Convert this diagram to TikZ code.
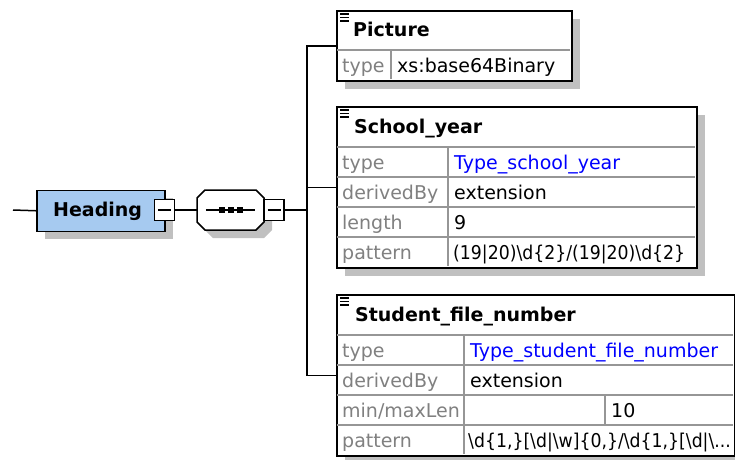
\documentclass[tikz,border=0pt]{standalone}
\usepackage{fontspec}
\setmainfont{DejaVu Sans}
\newfontfamily\patternfont{DejaVu Sans}[FakeStretch=0.91]
\usetikzlibrary{shadows}
\definecolor{headingblue}{RGB}{166,202,240}
\definecolor{shadowgray}{RGB}{192,192,192}
\definecolor{gridgray}{RGB}{150,150,150}
\definecolor{labelgray}{RGB}{128,128,128}
\definecolor{linkblue}{RGB}{0,0,255}

\begin{document}
\begin{tikzpicture}[x=1pt,y=-1pt,font=\fontsize{19}{22}\selectfont,
	wire/.style={line width=1.5pt},
	boxshadow/.style={drop shadow={shadow xshift=8pt,shadow yshift=-8pt,fill=shadowgray,opacity=1}},
	elembox/.style={draw,line width=1.5pt,fill=white,boxshadow,anchor=north west,inner sep=0pt},
	gridline/.style={draw=gridgray,line width=1.3pt},
	iconline/.style={line width=1.2pt},
	nametext/.style={font=\fontsize{19}{22}\selectfont\bfseries,anchor=west,inner sep=0pt,text height=15pt,text depth=2pt},
	celltext/.style={anchor=west,inner sep=0pt,text height=17pt,text depth=2pt},
	labeltext/.style={celltext,text=labelgray},
	minusbox/.style={draw,line width=1.3pt,fill=white,minimum width=20pt,minimum height=21pt,inner sep=0pt,
		path picture={\draw[line width=1.3pt] ([xshift=3.5pt]path picture bounding box.west) -- ([xshift=-3.5pt]path picture bounding box.east);}}]
	\useasboundingbox (0,0) rectangle (735,459);

	% heading and its sequence
	\coordinate (entry) at (13,210);
	\node[draw,line width=1.5pt,fill=headingblue,boxshadow,anchor=north west,minimum width=128pt,minimum height=41pt,inner sep=0pt] (heading) at (36,189.5) {};
	\node[nametext] (headingname) at (53,210) {Heading};
	\node[minusbox] (headingminus) at (164.5,210) {};
	\node[minimum width=67pt,minimum height=40pt,inner sep=0pt] (sequence) at (230.5,210) {};
	\fill[shadowgray] ([shift={(8,8)}]sequence.center) ++(-25.5,-20) -- ++(51,0) -- ++(8,8) -- ++(0,24) -- ++(-8,8) -- ++(-51,0) -- ++(-8,-8) -- ++(0,-24) -- cycle;
	\draw[line width=1.5pt,fill=white] (sequence.center) ++(-25.5,-20) -- ++(51,0) -- ++(8,8) -- ++(0,24) -- ++(-8,8) -- ++(-51,0) -- ++(-8,-8) -- ++(0,-24) -- cycle;
	\draw[wire] ([xshift=9pt]sequence.west) -- ([xshift=-9pt]sequence.east);
	\foreach \dx in {-9,0,9}
		\fill ([xshift=\dx pt]sequence.center) ++(-3,-3) rectangle ++(6,6);
	\node[minusbox] (sequenceminus) at (274,210) {};
	\coordinate (branch) at (307,210);

	% child elements
	\node[elembox,minimum width=235pt,minimum height=70pt] (picture) at (336,10) {};
	\node[elembox,minimum width=360pt,minimum height=161pt] (schoolyear) at (336,106) {};
	\node[elembox,minimum width=398pt,minimum height=161pt] (studentnumber) at (336,294) {};

	\draw[wire] (entry) -- (heading.west);
	\draw[wire] (headingminus.east) -- (sequence.west);
	\draw[wire] (sequenceminus.east) -- (branch);
	\draw[wire] (picture.west) -- (picture.west -| branch) -- (studentnumber.west -| branch) -- (studentnumber.west);
	\draw[wire] (schoolyear.west -| branch) -- (schoolyear.west);

	% Picture
	\draw[gridline] (337,50) -- (570,50) (391,50) -- (391,79);
	\foreach \y in {0,3.5,7}
		\draw[iconline] (340,14+\y) -- (349,14+\y);
	\node[nametext] (picturename) at (353,30) {Picture};
	\node[labeltext] (picturetypel) at (342,65) {type};
	\node[celltext] (picturetypev) at (397,65) {xs:base64Binary};

	% School_year
	\foreach \y in {147,177,207,237}
		\draw[gridline] (337,\y) -- (695,\y);
	\draw[gridline] (448,147) -- (448,266);
	\foreach \y in {0,3.5,7}
		\draw[iconline] (340,110+\y) -- (349,110+\y);
	\node[nametext] (schoolyearname) at (354,126.5) {School\_year};
	\node[labeltext] (schooltypel) at (342,162) {type};
	\node[celltext,text=linkblue] (schooltypev) at (454,162) {Type\_school\_year};
	\node[labeltext] (schoolderivedl) at (342,192) {derivedBy};
	\node[celltext] (schoolderivedv) at (454,192) {extension};
	\node[labeltext] (schoollengthl) at (342,222) {length};
	\node[celltext] (schoollengthv) at (454,222) {9};
	\node[labeltext] (schoolpatternl) at (342,252) {pattern};
	\node[celltext,font=\fontsize{19}{22}\patternfont] (schoolpatternv) at (453,252) {(19|20)\textbackslash d\{2\}/(19|20)\textbackslash d\{2\}};

	% Student_file_number
	\foreach \y in {335,365,395,425}
		\draw[gridline] (337,\y) -- (733,\y);
	\draw[gridline] (464,335) -- (464,454) (605,395) -- (605,425);
	\foreach \y in {0,3.5,7}
		\draw[iconline] (340,298+\y) -- (349,298+\y);
	\node[nametext] (studentname) at (355,314.5) {Student\_file\_number};
	\node[labeltext] (studenttypel) at (342,350) {type};
	\node[celltext,text=linkblue] (studenttypev) at (470,350) {Type\_student\_file\_number};
	\node[labeltext] (studentderivedl) at (342,380) {derivedBy};
	\node[celltext] (studentderivedv) at (470,380) {extension};
	\node[labeltext] (studentlenl) at (342,410) {min/maxLen};
	\node[celltext] (studentmaxv) at (611,410) {10};
	\node[labeltext] (studentpatternl) at (342,440) {pattern};
	\node[celltext,font=\fontsize{19}{22}\patternfont] (studentpatternv) at (468,440) {\textbackslash d\{1,\}[\textbackslash d|\textbackslash w]\{0,\}/\textbackslash d\{1,\}[\textbackslash d|\textbackslash ...};
\end{tikzpicture}
\end{document}
